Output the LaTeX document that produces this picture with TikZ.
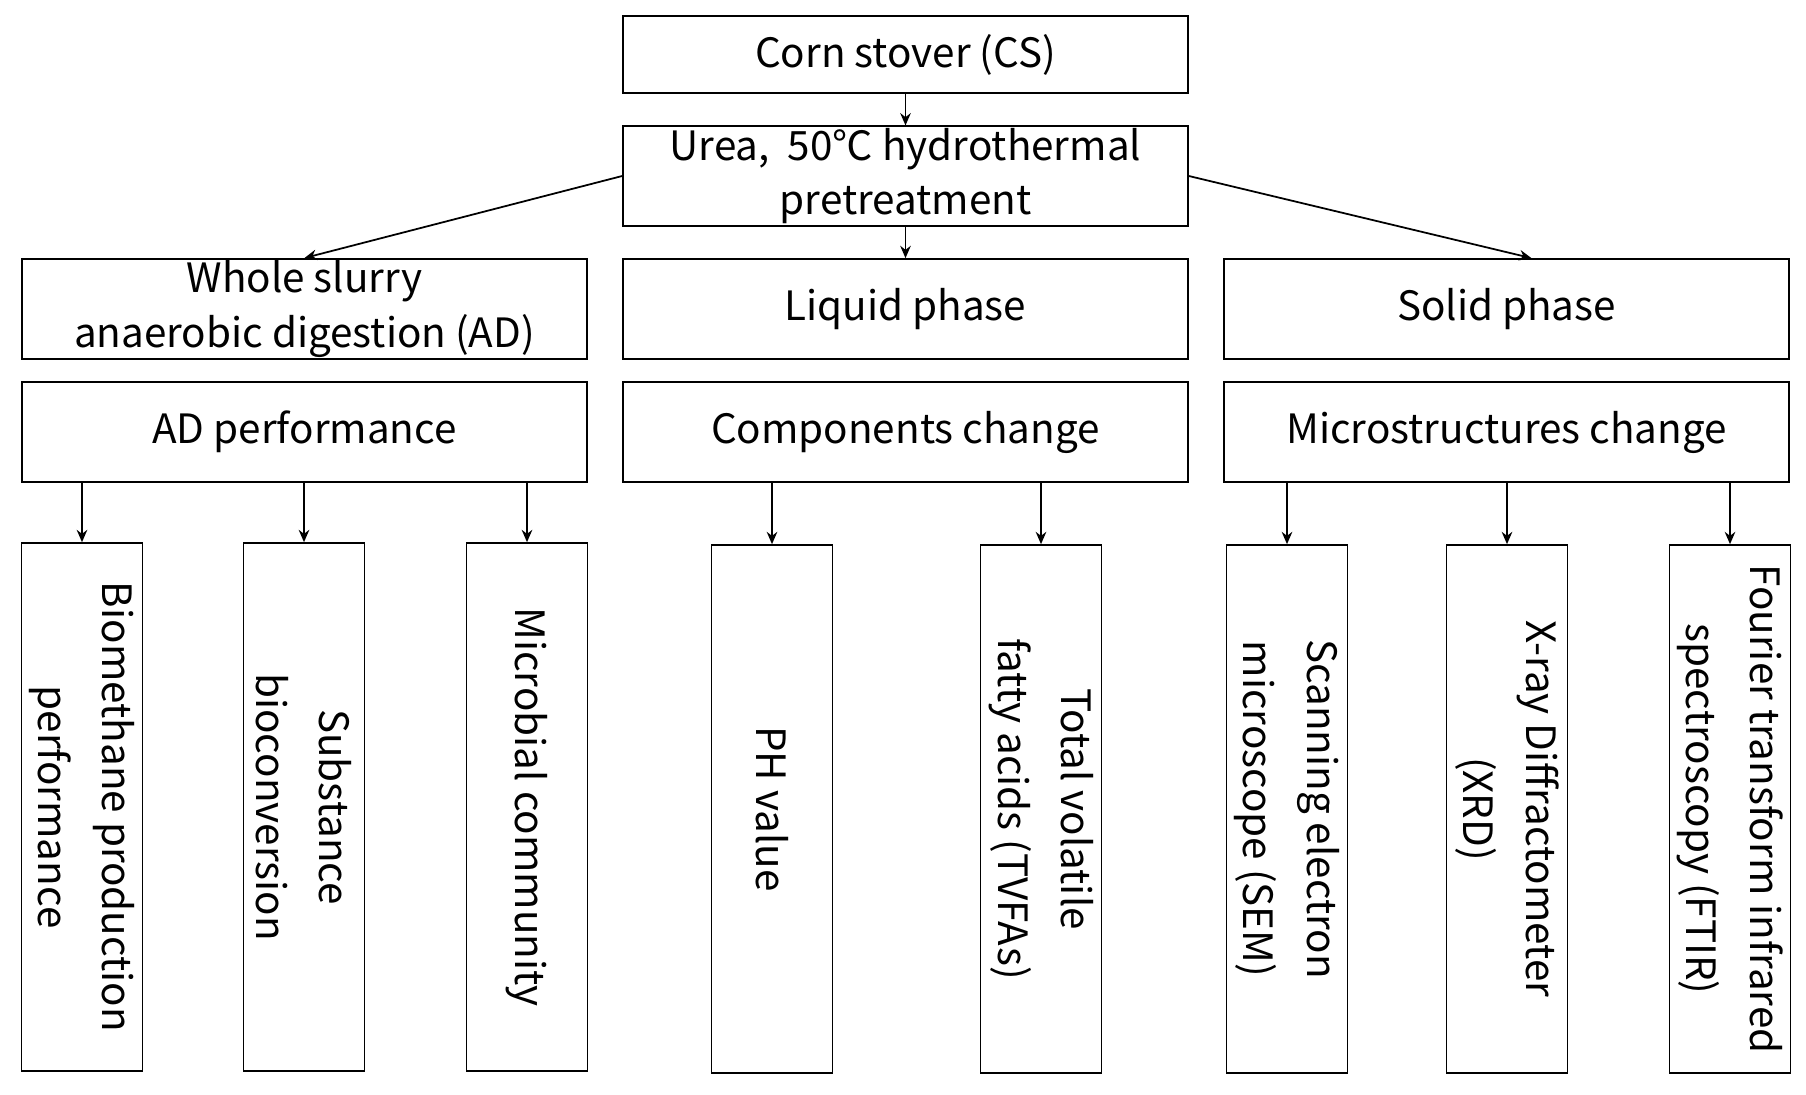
\documentclass[tikz,border=0pt]{standalone}
\usepackage{fontspec}
\setmainfont{Noto Sans CJK SC}
\usetikzlibrary{arrows.meta}
\tikzset{
  box/.style={draw, line width=1pt, minimum width=11.3cm, minimum height=2cm,
    align=center, inner sep=1pt, font=\fontsize{23}{31}\selectfont},
  leaf/.style={draw, line width=1pt, rotate=-90, minimum width=10.56cm,
    minimum height=2.42cm, align=center, inner sep=1pt, font=\fontsize{23}{36}\selectfont},
  arr/.style={-{Stealth[length=7pt,width=6pt]}, line width=1pt}
}
\begin{document}
\begin{tikzpicture}[x=0.02cm, y=-0.02cm]
    \useasboundingbox (0,0) rectangle (1806,1095);
    \node[box, minimum height=1.54cm] (cs) at (905.5,54.5) {Corn stover (CS)};
    \node[box, minimum height=1.96cm] (urea) at (905.5,176) {Urea,\ \ 50℃ hydrothermal\\pretreatment};
    \node[box] (whole) at (304.5,309) {Whole slurry\\anaerobic digestion (AD)};
    \node[box] (liquid) at (905.5,309) {Liquid phase};
    \node[box] (solid) at (1506.5,309) {Solid phase};
    \node[box] (adp) at (304.5,432) {AD performance};
    \node[box] (comp) at (905.5,432) {Components change};
    \node[box] (micro) at (1506.5,432) {Microstructures change};
    % leaves
    \node[leaf] (bio) at (82,807) {Biomethane production\\performance};
    \node[leaf] (sub) at (304,807) {Substance\\bioconversion};
    \node[leaf] (mic) at (527,807) {Microbial community};
    \node[leaf] (ph) at (772,809) {PH value};
    \node[leaf] (tvfa) at (1041,809) {Total volatile\\fatty acids (TVFAs)};
    \node[leaf] (sem) at (1287,809) {Scanning electron\\microscope (SEM)};
    \node[leaf] (xrd) at (1507,809) {X-ray Diffractometer\\(XRD)};
    \node[leaf] (ftir) at (1730,809) {Fourier transform infrared\\spectroscopy (FTIR)};
    \draw[arr] (cs) -- (urea);
    \draw[arr] (urea) -- (liquid);
    \draw[arr] (urea.west) -- (whole.north);
    \draw[arr] (urea.east) -- ([xshift=0.5cm]solid.north);
    \foreach \p/\c in {adp/bio, adp/sub, adp/mic, comp/ph, comp/tvfa, micro/sem, micro/xrd, micro/ftir}
        \draw[arr] (\p.south -| \c) -- (\c);
\end{tikzpicture}
\end{document}
